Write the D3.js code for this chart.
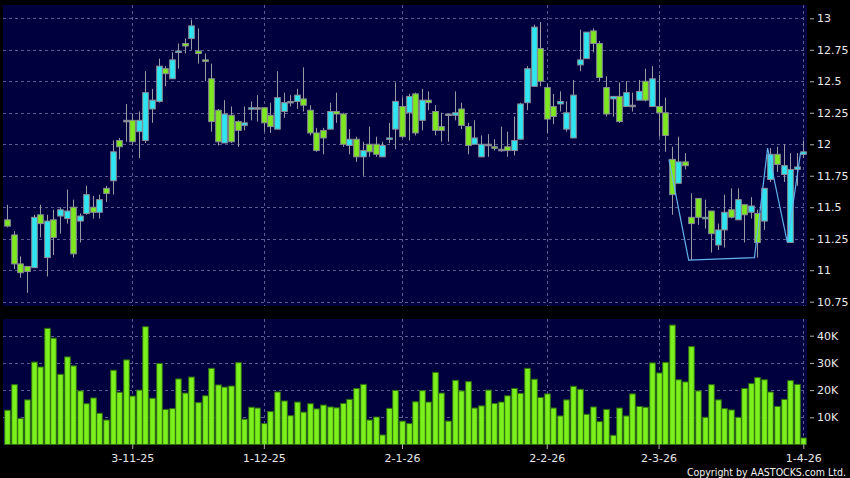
<!DOCTYPE html>
<html>
<head>
<meta charset="utf-8">
<script src="https://cdn.jsdelivr.net/npm/d3@7"></script>
<style>
  body { margin: 0; background: #000; }
  svg { display: block; font-family: 'DejaVu Sans', sans-serif; }
</style>
</head>
<body>
<div id="chart"></div>
<script>
// daily candles, one entry per trading day (index 0 = early Oct 2025, last = 1-4-26)
var opens = [11.40,11.28,11.05,11.03,11.02,11.44,11.10,11.40,11.43,11.41,11.50,11.39,11.45,11.50,11.46,11.65,11.71,12.03,12.19,12.19,
  12.10,12.03,12.28,12.34,12.60,12.52,12.73,12.80,12.84,12.74,12.67,12.52,12.27,12.01,12.23,12.18,12.15,12.28,12.29,12.29,
  12.23,12.12,12.26,12.34,12.34,12.36,12.27,12.09,12.11,12.12,12.26,12.24,11.99,12.04,11.90,12.00,12.00,11.90,12.04,12.12,
  12.30,12.25,12.40,12.19,12.35,12.26,12.14,12.24,12.23,12.28,12.14,12.00,11.90,12.00,11.98,11.96,11.98,11.95,12.04,12.33,
  12.46,12.76,12.45,12.30,12.32,12.12,12.05,12.63,12.68,12.90,12.80,12.45,12.36,12.38,12.30,12.31,12.35,12.50,12.30,12.30,
  12.25,11.88,11.69,11.86,11.42,11.57,11.41,11.47,11.20,11.32,11.48,11.40,11.52,11.46,11.45,11.39,11.72,11.92,11.76,11.22,
  11.80,11.92];
var highs = [11.52,11.31,11.11,11.03,11.44,11.52,11.44,11.48,11.50,11.64,11.56,11.45,11.67,11.59,11.60,11.67,12.03,12.05,12.32,12.24,
  12.26,12.58,12.44,12.68,12.62,12.73,12.80,12.84,12.99,12.92,12.72,12.64,12.28,12.35,12.30,12.19,12.30,12.34,12.39,12.29,
  12.33,12.58,12.41,12.39,12.44,12.61,12.31,12.13,12.13,12.33,12.41,12.25,12.12,12.06,12.02,12.14,12.06,12.02,12.17,12.49,
  12.37,12.40,12.41,12.44,12.42,12.31,12.25,12.24,12.42,12.33,12.17,12.19,12.07,12.08,12.04,12.14,12.10,12.22,12.33,12.62,
  12.95,12.97,12.48,12.40,12.42,12.34,12.51,12.91,12.89,12.92,12.82,12.54,12.38,12.49,12.50,12.41,12.51,12.60,12.62,12.55,
  12.37,11.98,12.06,11.93,11.61,11.57,11.56,11.47,11.37,11.60,11.65,11.65,11.52,11.58,11.48,11.65,11.97,11.98,12.00,11.93,
  11.93,12.03];
var lows = [11.34,11.01,10.94,10.82,11.02,11.26,10.95,11.12,11.29,11.37,11.10,11.22,11.44,11.41,11.41,11.54,11.60,11.88,12.02,12.00,
  11.89,12.01,12.17,12.33,12.46,12.52,12.60,12.72,12.75,12.64,12.50,12.10,11.99,12.01,12.01,11.98,12.11,12.19,12.18,12.10,
  12.09,12.12,12.21,12.30,12.28,12.26,12.07,11.94,11.92,12.12,12.17,11.98,11.92,11.86,11.75,11.90,11.90,11.90,12.01,11.96,
  12.05,12.03,12.07,12.11,12.27,12.07,12.02,12.02,12.19,12.12,11.92,12.00,11.90,11.90,11.95,11.94,11.90,11.91,12.04,12.27,
  12.46,12.46,12.09,12.16,12.26,12.10,12.05,12.58,12.68,12.73,12.50,12.22,12.22,12.17,12.30,12.26,12.35,12.34,12.30,12.06,
  11.94,11.44,11.69,11.80,11.08,11.36,11.33,11.14,11.16,11.18,11.41,11.40,11.22,11.41,11.10,11.32,11.70,11.78,11.70,11.22,
  11.67,11.89];
var closes = [11.35,11.05,10.98,10.99,11.42,11.37,11.39,11.26,11.48,11.47,11.13,11.43,11.60,11.46,11.56,11.61,11.94,11.98,12.19,12.02,
  12.19,12.41,12.35,12.62,12.56,12.67,12.74,12.78,12.94,12.72,12.66,12.18,12.02,12.24,12.02,12.11,12.17,12.29,12.29,12.17,
  12.14,12.37,12.33,12.34,12.39,12.31,12.09,11.95,12.05,12.26,12.24,12.00,12.04,11.90,11.95,11.94,11.92,11.99,12.05,12.34,
  12.06,12.38,12.09,12.35,12.33,12.11,12.11,12.24,12.25,12.15,11.99,12.05,12.00,12.00,11.97,11.96,11.95,12.03,12.32,12.60,
  12.93,12.50,12.20,12.22,12.34,12.25,12.39,12.67,12.89,12.80,12.53,12.24,12.38,12.18,12.41,12.31,12.42,12.35,12.52,12.25,
  12.07,11.60,11.86,11.83,11.37,11.42,11.42,11.29,11.32,11.46,11.42,11.56,11.44,11.51,11.22,11.65,11.92,11.84,11.83,11.80,
  11.82,11.94];
// volume in thousands
var volumes = [12.6,22.0,9.6,16.4,30.3,28.5,42.7,39.1,25.8,32.2,28.9,19.7,15.0,17.1,11.5,9.0,27.3,19.2,31.1,17.8,
  20.0,43.3,17.0,29.8,12.9,13.2,24.1,18.9,24.8,15.4,17.9,28.0,21.9,21.1,21.5,30.1,9.3,13.7,13.4,7.7,
  12.1,19.3,16.0,10.6,15.6,11.9,15.0,13.1,14.5,13.8,13.5,15.1,16.6,20.6,22.1,9.0,10.1,3.5,13.3,19.9,
  8.6,7.7,15.7,19.8,15.6,26.5,18.9,8.6,23.6,19.7,23.1,13.4,14.2,20.0,15.1,15.6,17.9,20.6,18.8,28.0,
  24.0,17.3,18.6,13.4,10.5,16.4,21.4,20.3,11.1,13.8,8.4,12.9,3.4,13.4,10.5,18.6,14.0,13.7,30.0,26.3,
  30.2,43.9,23.8,23.0,36.0,19.7,10.0,22.0,16.4,13.2,12.7,10.0,20.6,22.4,24.6,23.8,19.3,14.0,16.6,23.5,
  22.1,2.4];

// date axis
var dateTickIdx = [19, 39, 60, 82, 99, 121];
var dateTickLabels = ['3-11-25', '1-12-25', '2-1-26', '2-2-26', '2-3-26', '1-4-26'];
var priceTicks = [10.75, 11, 11.25, 11.5, 11.75, 12, 12.25, 12.5, 12.75, 13];
var volTicks = [10, 20, 30, 40];

// pattern line drawn over the last month
var patternIdx = [101, 104, 114, 116, 119, 121];
var patternPrice = [11.88, 11.08, 11.10, 11.97, 11.22, 11.93];

var width = 850, height = 478;
var panel = {left: 3, right: 807};
var mainTop = 5, mainBottom = 306;
var volTop = 319, volBottom = 444;

var upColor = '#2ee6f2', downColor = '#7ee81e', edgeColor = '#8c8c96';
var gridColor = '#5c5c90';

var svg = d3.select('#chart').append('svg')
  .attr('width', width)
  .attr('height', height);

svg.append('rect').attr('width', width).attr('height', height).attr('fill', '#000');

// panels
svg.append('rect')
  .attr('x', panel.left).attr('y', mainTop)
  .attr('width', panel.right - panel.left).attr('height', mainBottom - mainTop)
  .attr('fill', '#00003f');
svg.append('rect')
  .attr('x', panel.left).attr('y', volTop)
  .attr('width', panel.right - panel.left).attr('height', volBottom - volTop)
  .attr('fill', '#00003f');

var data = opens.map(function(o, i) {
  return {i: i, open: o, high: highs[i], low: lows[i], close: closes[i], vol: volumes[i]};
});

var x = d3.scaleLinear().domain([0, 121]).range([7.3, 803.3]);
var y = d3.scaleLinear().domain([10.75, 13]).range([301.7, 18.3]);
var yv = d3.scaleLinear().domain([0, 40]).range([444.5, 335.7]);

// grid lines
var grid = svg.append('g')
  .attr('stroke', gridColor)
  .attr('stroke-width', 1)
  .attr('stroke-dasharray', '3,3')
  .attr('shape-rendering', 'crispEdges');

grid.selectAll('.hp').data(priceTicks).enter().append('line')
  .attr('x1', panel.left).attr('x2', panel.right)
  .attr('y1', function(d) { return Math.round(y(d)) + 0.5; })
  .attr('y2', function(d) { return Math.round(y(d)) + 0.5; });

grid.selectAll('.hv').data(volTicks).enter().append('line')
  .attr('x1', panel.left).attr('x2', panel.right)
  .attr('y1', function(d) { return Math.round(yv(d)) + 0.5; })
  .attr('y2', function(d) { return Math.round(yv(d)) + 0.5; });

grid.selectAll('.vm').data(dateTickIdx).enter().append('line')
  .attr('x1', function(d) { return Math.round(x(d)) + 0.5; })
  .attr('x2', function(d) { return Math.round(x(d)) + 0.5; })
  .attr('y1', mainTop).attr('y2', mainBottom);

grid.selectAll('.vv').data(dateTickIdx).enter().append('line')
  .attr('x1', function(d) { return Math.round(x(d)) + 0.5; })
  .attr('x2', function(d) { return Math.round(x(d)) + 0.5; })
  .attr('y1', volTop).attr('y2', volBottom);

// candles
var bodyW = 5.6;
var candles = svg.append('g');

candles.selectAll('.wick').data(data).enter().append('line')
  .attr('x1', function(d) { return Math.round(x(d.i)) + 0.5; })
  .attr('x2', function(d) { return Math.round(x(d.i)) + 0.5; })
  .attr('y1', function(d) { return y(d.high); })
  .attr('y2', function(d) { return y(d.low); })
  .attr('stroke', '#9a9aa6')
  .attr('stroke-width', 1);

candles.selectAll('.body').data(data).enter().append('rect')
  .attr('x', function(d) { return Math.round(x(d.i)) + 0.5 - bodyW / 2; })
  .attr('y', function(d) { return y(Math.max(d.open, d.close)); })
  .attr('width', bodyW)
  .attr('height', function(d) {
    return Math.max(Math.abs(y(d.open) - y(d.close)), 1.5);
  })
  .attr('fill', function(d) {
    if (d.close > d.open) return upColor;
    if (d.close < d.open) return downColor;
    return '#9a9aa6';
  })
  .attr('stroke', edgeColor)
  .attr('stroke-width', 1);

// pattern line
var pattern = patternIdx.map(function(d, k) { return {i: d, p: patternPrice[k]}; });
svg.append('path')
  .attr('d', d3.line()
    .x(function(d) { return x(d.i) - 2.8; })
    .y(function(d) { return y(d.p); })(pattern))
  .attr('fill', 'none')
  .attr('stroke', '#62b4ee')
  .attr('stroke-width', 1.2);

// volume bars
svg.append('g').selectAll('rect').data(data).enter().append('rect')
  .attr('x', function(d) { return Math.round(x(d.i)) + 0.5 - 2.8; })
  .attr('y', function(d) { return yv(d.vol); })
  .attr('width', 5.6)
  .attr('height', function(d) { return yv(0) - yv(d.vol); })
  .attr('fill', '#7cf01c')
  .attr('stroke', '#2f6e12')
  .attr('stroke-width', 1);

// axes
function styleAxis(g) {
  g.select('.domain').remove();
  g.selectAll('.tick line').attr('stroke', '#b0b0b0');
  g.selectAll('.tick text').attr('fill', '#e8e8e8')
    .style('font-size', '11px').style('font-family', 'DejaVu Sans, sans-serif');
}

svg.append('g')
  .attr('transform', 'translate(810,0)')
  .call(d3.axisRight(y).tickValues(priceTicks).tickSize(4).tickPadding(3)
    .tickFormat(function(d) { return String(d); }))
  .call(styleAxis);

svg.append('g')
  .attr('transform', 'translate(810,0)')
  .call(d3.axisRight(yv).tickValues(volTicks).tickSize(4).tickPadding(3)
    .tickFormat(function(d) { return d + 'K'; }))
  .call(styleAxis);

svg.append('g')
  .attr('transform', 'translate(0,' + volBottom + ')')
  .call(d3.axisBottom(x).tickValues(dateTickIdx).tickSize(5).tickPadding(5)
    .tickFormat(function(d) { return dateTickLabels[dateTickIdx.indexOf(d)]; }))
  .call(styleAxis);

svg.append('text')
  .attr('x', 846).attr('y', 476)
  .attr('text-anchor', 'end')
  .attr('fill', '#f0f0f0')
  .style('font-size', '10.5px')
  .style('font-family', 'DejaVu Sans Condensed, DejaVu Sans, sans-serif')
  .text('Copyright by AASTOCKS.com Ltd.');
</script>
</body>
</html>
